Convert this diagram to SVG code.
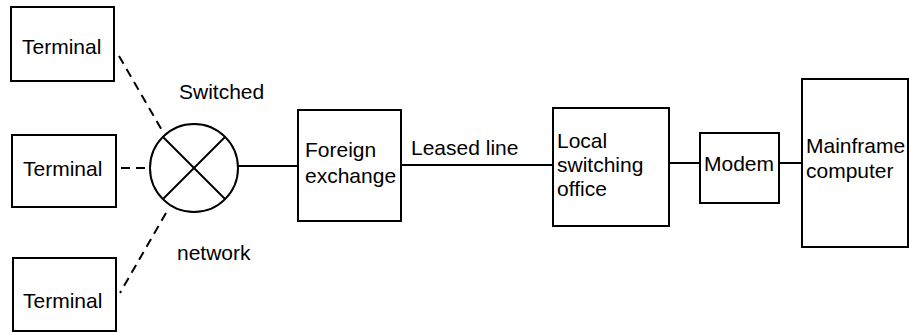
<svg xmlns="http://www.w3.org/2000/svg" width="909" height="332" viewBox="0 0 909 332">
<style>
.box{fill:#fff;stroke:#000;stroke-width:2}
.ln{fill:none;stroke:#000;stroke-width:2}
.dash{fill:none;stroke:#000;stroke-width:2;stroke-dasharray:9,6}
text{font-family:"Liberation Sans",Arial,sans-serif;font-size:21px;fill:#000}
</style>
<rect width="909" height="332" fill="#fff"/>
<g id="connectors">
<line class="dash" x1="119" y1="56" x2="163" y2="132"/>
<line class="dash" x1="121" y1="168" x2="149" y2="168"/>
<line class="dash" x1="166" y1="213" x2="120" y2="293"/>
<line class="ln" x1="238" y1="166" x2="298" y2="166"/>
<line class="ln" x1="401" y1="165" x2="553" y2="165"/>
<line class="ln" x1="669" y1="163" x2="700" y2="163"/>
<line class="ln" x1="779" y1="163" x2="802" y2="163"/>
<text x="411" y="155">Leased line</text>
</g>
<g id="terminal1"><rect class="box" x="11" y="7" width="103" height="74"/><text x="22" y="54">Terminal</text></g>
<g id="terminal2"><rect class="box" x="12" y="135" width="104" height="72"/><text x="23" y="176">Terminal</text></g>
<g id="terminal3"><rect class="box" x="13" y="258" width="103" height="73"/><text x="23" y="308">Terminal</text></g>
<g id="switched-network">
<circle class="ln" cx="194" cy="168" r="44"/>
<line class="ln" x1="163" y1="137" x2="225" y2="199"/>
<line class="ln" x1="225" y1="137" x2="163" y2="199"/>
<text x="179" y="99">Switched</text>
<text x="177" y="260">network</text>
</g>
<g id="foreign-exchange"><rect class="box" x="298" y="110" width="103" height="111"/><text x="305" y="157">Foreign</text><text x="305" y="183">exchange</text></g>
<g id="local-switching-office"><rect class="box" x="553" y="108" width="116" height="118"/><text x="557" y="148">Local</text><text x="557" y="172">switching</text><text x="557" y="196">office</text></g>
<g id="modem"><rect class="box" x="700" y="133" width="79" height="70"/><text x="704" y="171">Modem</text></g>
<g id="mainframe"><rect class="box" x="802" y="79" width="106" height="168"/><text x="806" y="153">Mainframe</text><text x="806" y="178">computer</text></g>
</svg>
